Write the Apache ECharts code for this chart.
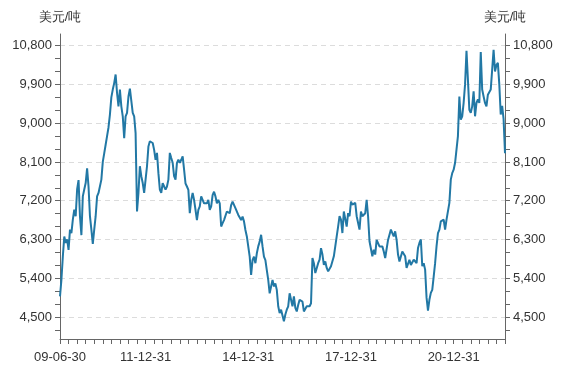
<!DOCTYPE html>
<html>
<head>
<meta charset="utf-8">
<script src="https://cdn.jsdelivr.net/npm/echarts@6/dist/echarts.min.js"></script>
<style>
  html, body { margin: 0; padding: 0; background: #fff; }
  #chart { width: 568px; height: 378px; }
</style>
</head>
<body>
<div id="chart"></div>
<script>
// LME copper, USD/t, half-monthly readings (15th and month end), 2009-06-30 .. 2022-06-30
var cu2009 = [4980, 5370, 5910, 6370, 6220, 6300, 6060, 6530, 6450, 6760, 6990, 6840, 7460];
var cu2010 = [7680, 6840, 6400, 7300, 7460, 7610, 7950, 7530, 6840, 6530, 6200, 6530,
              6840, 7300, 7380, 7380, 7690, 8100, 8300, 8500, 8700, 8900, 9200, 9600];
var cu2011 = [9780, 9930, 10130, 9700, 9390, 9780, 9390, 9160, 8650, 9160, 9240, 9620,
              9800, 9780, 9240, 9160, 8770, 6950, 7380, 8000, 7770, 7610, 7380, 7690];
var cu2012 = [8000, 8460, 8580, 8620, 8540, 8380, 8150, 8310, 7840, 7460, 7380, 7610,
              7530, 7460, 7530, 7690, 8310, 8190, 8080, 7770, 7690, 8080, 8150, 8080];
var cu2013 = [8150, 8230, 7920, 7600, 7530, 7450, 6910, 7220, 7380, 7220, 6990, 6750,
              6990, 7070, 7300, 7330, 7140, 7180, 7140, 7220, 6990, 7070, 7330, 7410];
var cu2014 = [7300, 7140, 7220, 7140, 6600, 6680, 6750, 6750, 6950, 6910, 6910, 7100,
              7180, 7140, 7030, 6990, 6870, 6830, 6750, 6830, 6720, 6520, 6370, 6370];
var cu2015 = [5900, 5480, 5820, 5900, 5750, 5980, 6140, 6250, 6410, 6140, 5900, 5820,
              5590, 5360, 5050, 5210, 5360, 5210, 5280, 5130, 4750, 4590, 4670, 4710];
var cu2016 = [4400, 4560, 4670, 4750, 5050, 4900, 4750, 4980, 4710, 4630, 4780, 4900,
              4860, 4860, 4630, 4640, 4750, 4780, 4750, 4820, 5870, 5750, 5520, 5480];
var cu2017 = [5750, 5830, 6100, 5950, 5710, 5790, 5640, 5560, 5600, 5680, 5710, 5910,
              5950, 6370, 6600, 6840, 6760, 6450, 6950, 6910, 6600, 6910, 6840, 7180];
var cu2018 = [7110, 7070, 7150, 6840, 6800, 6530, 6950, 6840, 6840, 6910, 7220, 6840,
              6260, 6290, 5910, 6060, 5950, 6290, 6260, 6140, 6180, 6140, 6020, 5870];
var cu2019 = [5910, 6290, 6330, 6530, 6450, 6370, 6490, 6290, 5950, 5790, 5830, 6020,
              5980, 5910, 5640, 5680, 5830, 5710, 5750, 5830, 5790, 5750, 6100, 6220];
var cu2020 = [6300, 5680, 5750, 5600, 4950, 4650, 4900, 5060, 5130, 5440, 5750, 6140,
              6450, 6530, 6720, 6760, 6760, 6530, 6760, 6800, 7150, 7690, 7840, 7920];
var cu2021 = [8080, 8080, 8700, 9620, 9080, 9160, 9470, 9900, 10680, 10010, 9310, 9240,
              9390, 9740, 9160, 9470, 9550, 9470, 10650, 9780, 9620, 9470, 9390, 9660];
var cu2022 = [9700, 9780, 10240, 10700, 10200, 10350, 10400, 9900, 9200, 9400, 9100, 8300];

var yTicks = [4200, 4500, 4800, 5100, 5400, 5700, 6000, 6300, 6600, 6900, 7200, 7500, 7800,
              8100, 8400, 8700, 9000, 9300, 9600, 9900, 10200, 10500, 10800];
var yLabels = [4500, 5400, 6300, 7200, 8100, 9000, 9900, 10800];
var xLabels = ['09-06-30', '11-12-31', '14-12-31', '17-12-31', '20-12-31'];

var values = [].concat(cu2009, cu2010, cu2011, cu2012, cu2013, cu2014, cu2015,
                       cu2016, cu2017, cu2018, cu2019, cu2020, cu2021, cu2022);

// dates: 15th and last day of each month
function pad(n) { return (n < 10 ? '0' : '') + n; }
var dates = ['09-06-30'];
for (var y = 2009; y <= 2022; y++) {
    for (var m = 1; m <= 12; m++) {
        if (y === 2009 && m < 7) continue;
        if (y === 2022 && m > 6) break;
        var last = new Date(y, m, 0).getDate();
        var yy = pad(y % 100);
        dates.push(yy + '-' + pad(m) + '-15');
        dates.push(yy + '-' + pad(m) + '-' + pad(last));
    }
}

var chart = echarts.init(document.getElementById('chart'));
var txt = '#333';
var axisCol = '#666';

function sideAxis(pos) {
    return {
        type: 'value',
        position: pos,
        min: 3990,
        max: 11070,
        name: '美元/吨',
        nameLocation: 'end',
        nameGap: 10,
        nameTextStyle: { color: txt, fontSize: 13, align: 'center' },
        axisLine: { show: true, lineStyle: { color: axisCol } },
        axisTick: { show: true, length: 5, customValues: yTicks, lineStyle: { color: axisCol } },
        axisLabel: {
            customValues: yLabels,
            color: txt,
            fontSize: 13,
            margin: 8,
            formatter: function (v) { return v.toLocaleString('en-US'); }
        },
        splitLine: { show: false }
    };
}

var option = {
    animation: false,
    grid: { left: 60, right: 63, top: 34, bottom: 39 },
    xAxis: {
        type: 'category',
        boundaryGap: false,
        data: dates,
        axisLine: { lineStyle: { color: axisCol } },
        axisTick: {
            length: 5,
            lineStyle: { color: axisCol },
            interval: function (i, v) {
                var md = v.slice(3);
                return md === '03-31' || md === '06-30' || md === '09-30' || md === '12-31';
            }
        },
        axisLabel: {
            color: txt,
            fontSize: 13,
            margin: 12,
            interval: function (i, v) { return xLabels.indexOf(v) >= 0; }
        },
        splitLine: { show: false }
    },
    yAxis: [
        sideAxis('left'),
        sideAxis('right'),
        {
            type: 'value',
            position: 'left',
            min: 3990,
            max: 11070,
            axisLine: { show: false },
            axisTick: { show: false, customValues: yLabels },
            axisLabel: { show: false, customValues: yLabels },
            splitLine: { show: true, lineStyle: { color: '#dcdcdc', type: [5, 4], width: 1 } }
        }
    ],
    series: [{
        type: 'line',
        data: values,
        yAxisIndex: 0,
        showSymbol: false,
        lineStyle: { color: '#2278a5', width: 2 },
        itemStyle: { color: '#2278a5' }
    }]
};
chart.setOption(option);
window.addEventListener('resize', function () { chart.resize(); });
</script>
</body>
</html>
